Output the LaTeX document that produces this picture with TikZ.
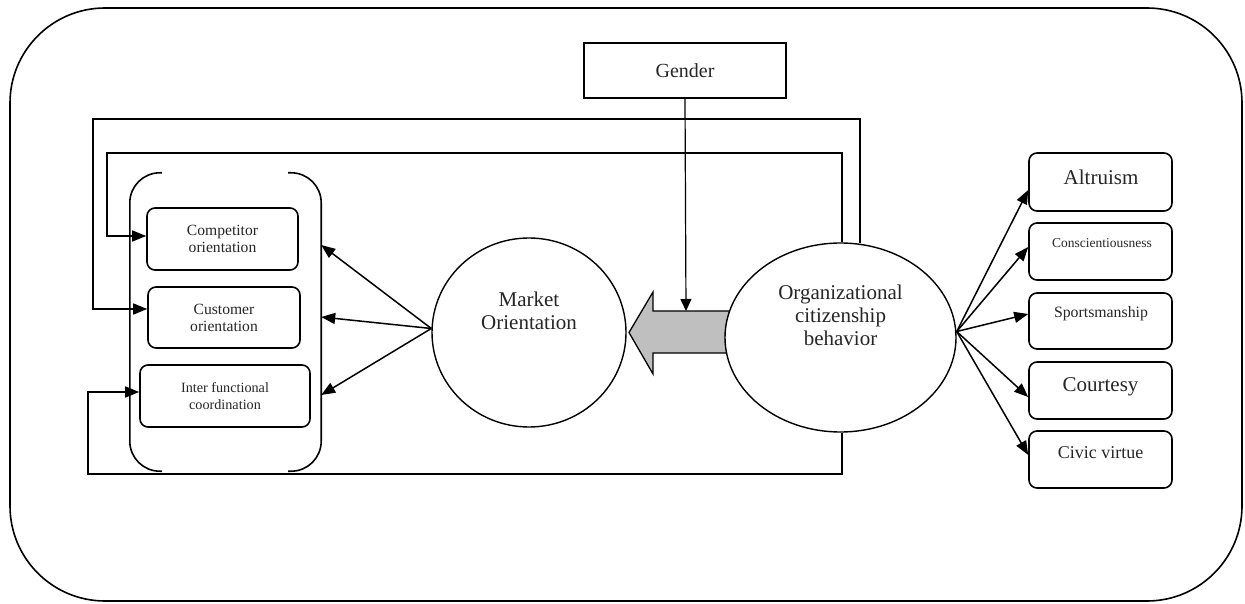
\documentclass[tikz,border=0pt]{standalone}
\usepackage{fontspec}
\setmainfont{Liberation Serif}
\usetikzlibrary{calc,arrows.meta,shapes.geometric}
\begin{document}
\begin{tikzpicture}[x=1pt,y=-1pt,
  arr/.style={line width=1.5pt,-{Triangle[length=14pt,width=11pt]}},
  garr/.style={line width=1.2pt,-{Triangle[length=12pt,width=11pt]}},
  lbox/.style={draw,line width=1.6pt,rounded corners=8pt,inner sep=0pt,align=center},
  rbox/.style={draw,line width=1.6pt,rounded corners=8pt,inner sep=0pt,minimum width=143pt},
  big/.style={ellipse,draw,line width=1.4pt,fill=white,inner sep=0pt},
  ttxt/.style={inner sep=0pt,align=center,text=black!85}]
\useasboundingbox (0,0) rectangle (1245,604);
% outer frame
\draw[line width=1.6pt,rounded corners=95pt] (10,8) rectangle (1242,601);

% gender
\node[draw,line width=1.5pt,minimum width=202pt,minimum height=55pt,inner sep=0pt,
  font=\fontsize{20}{22}\selectfont,text=black!85] (gender) at (685,70.5) {Gender};

% gray block arrow
\draw[line width=1.3pt,fill=gray!50] (735,311) -- (653,311) -- (653,292) -- (629,332.5)
  -- (653,374) -- (653,353) -- (735,353) -- cycle;
\coordinate (gtop) at (686,311);

% big shapes
\node[big,minimum width=194pt,minimum height=189pt] (mo) at (529,332.5) {};
\node[ttxt,font=\fontsize{21}{23}\selectfont] (motxt) at (529,311) {Market\\Orientation};
\node[big,minimum width=231pt,minimum height=189pt] (ocb) at (840.5,337.5) {};
\node[ttxt,font=\fontsize{21}{23}\selectfont] (ocbtxt) at (840.5,315) {Organizational\\citizenship\\behavior};

\draw[garr] (gender.south) -- (gtop);

% left group
\node[lbox,minimum width=151pt,minimum height=62pt,font=\fontsize{15.6}{17}\selectfont,text=black!85] (comp) at (222.5,239) {Competitor\\orientation};
\node[lbox,minimum width=152pt,minimum height=61pt,font=\fontsize{15.6}{17}\selectfont,text=black!85] (cust) at (224,317.5) {Customer\\orientation};
\node[lbox,minimum width=170pt,minimum height=62pt,font=\fontsize{14.2}{16.5}\selectfont,text=black!85] (inter) at (225,396) {Inter functional\\coordination};
\node[minimum width=191pt,minimum height=298pt,inner sep=0pt] (grp) at (225.5,322) {};
\draw[line width=1.6pt,rounded corners=30pt] ($(grp.north west)+(32,0)$) -- (grp.north west)
  -- (grp.south west) -- ($(grp.south west)+(32,0)$);
\draw[line width=1.6pt,rounded corners=30pt] ($(grp.north east)+(-33,0)$) -- (grp.north east)
  -- (grp.south east) -- ($(grp.south east)+(-33,0)$);

% MO to components
\draw[arr] ($(mo.west)+(0,-4)$) -- ($(grp.east)+(0,-77)$);
\draw[arr] ($(mo.west)+(0,-4)$) -- ($(grp.east)+(0,-5)$);
\draw[arr] ($(mo.west)+(0,-4)$) -- ($(grp.east)+(0,73)$);

% feedback lines
\draw[arr] ($(ocb.north)+(19.5,1)$) |- (93,119) |- ($(cust.west)+(0,-8.5)$);
\draw[arr] ($(ocb.north)+(1.5,0)$) |- (107,153) |- ($(comp.west)+(0,-3)$);
\draw[arr] ($(ocb.south)+(1.5,0)$) |- (88,474) |- ($(inter.west)+(0,-4)$);

% right boxes
\node[rbox,minimum height=58pt] (alt) at (1100.5,182) {};
\node[ttxt,font=\fontsize{21}{23}\selectfont] (altt) at (1101,177) {Altruism};
\node[rbox,minimum height=57pt] (con) at (1100.5,251.5) {};
\node[ttxt,font=\fontsize{13.5}{15}\selectfont] (cont) at (1102,243) {Conscientiousness};
\node[rbox,minimum height=56pt] (spo) at (1100.5,321) {};
\node[ttxt,font=\fontsize{15.8}{17}\selectfont] (spot) at (1101,314) {Sportsmanship};
\node[rbox,minimum height=57pt] (cou) at (1100.5,390.5) {};
\node[ttxt,font=\fontsize{21}{23}\selectfont] (cout) at (1100.5,387) {Courtesy};
\node[rbox,minimum height=57pt] (civ) at (1100.5,459.5) {};
\node[ttxt,font=\fontsize{18}{20}\selectfont] (civt) at (1100.5,453) {Civic virtue};

\draw[arr] ($(ocb.east)+(0,-6)$) -- ($(alt.west)+(0,8)$);
\draw[arr] ($(ocb.east)+(0,-6)$) -- ($(con.west)+(0,-4.5)$);
\draw[arr] ($(ocb.east)+(0,-6)$) -- ($(spo.west)+(0,-7)$);
\draw[arr] ($(ocb.east)+(0,-6)$) -- ($(cou.west)+(0,6.5)$);
\draw[arr] ($(ocb.east)+(0,-6)$) -- ($(civ.west)+(0,-4.5)$);
\end{tikzpicture}
\end{document}
